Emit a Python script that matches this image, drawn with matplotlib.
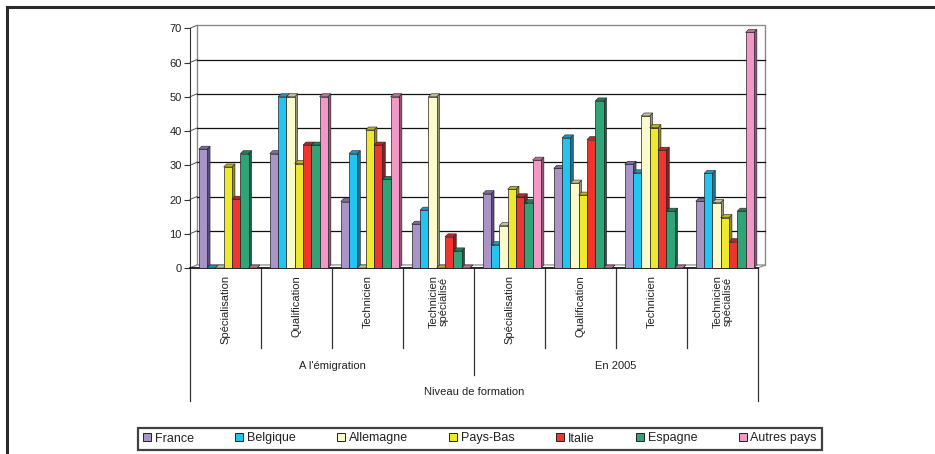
import numpy as np
import matplotlib.pyplot as plt
from matplotlib.patches import Polygon, Patch
from matplotlib.lines import Line2D
from matplotlib import transforms

plt.rcParams['font.family'] = ['Liberation Sans', 'DejaVu Sans']

# niveau de formation, à l'émigration puis en 2005
niveaux = ['Spécialisation', 'Qualification', 'Technicien', 'Technicien\nspécialisé',
           'Spécialisation', 'Qualification', 'Technicien', 'Technicien\nspécialisé']
periodes = ["A l'émigration", 'En 2005']
pays = ['France', 'Belgique', 'Allemagne', 'Pays-Bas', 'Italie', 'Espagne', 'Autres pays']

france = [34.7, 33.4, 19.4, 12.8, 21.7, 29.1, 30.3, 19.5]
belgique = [0, 50, 33.4, 16.9, 6.8, 38.0, 27.8, 27.6]
allemagne = [0, 50, 0, 50, 12.4, 24.8, 44.4, 19.1]
pays_bas = [29.5, 30.5, 40.3, 0, 23.0, 21.3, 41.0, 14.7]
italie = [20.1, 35.9, 35.9, 9.1, 20.8, 37.5, 34.4, 7.7]
espagne = [33.4, 35.9, 25.9, 5.0, 19.1, 48.8, 16.6, 16.6]
autres = [0, 50, 50, 0, 31.5, 0, 0, 68.8]
series = [france, belgique, allemagne, pays_bas, italie, espagne, autres]

yticks = list(range(0, 80, 10))

face = ['#a994c8', '#22c4f2', '#fafacb', '#efe92d', '#ee3530', '#30a377', '#f397c6']
dark = ['#5a4a7e', '#1a7090', '#94947a', '#8d8820', '#8c1d1b', '#1b5e44', '#8e5673']

W, H = 935, 454
fig = plt.figure(figsize=(W / 100, H / 100), dpi=100)
x0_px, x1_px, y0_px, y1_px = 190, 758, 268, 28.3
ax = fig.add_axes([x0_px / W, 1 - y0_px / H, (x1_px - x0_px) / W, (y0_px - y1_px) / H])
ax.set_xlim(0, 8)
ax.set_ylim(0, 70)

# pixel -> data
px_x = 8 / (x1_px - x0_px)
px_y = 70 / (y0_px - y1_px)

# back wall, floor and gridlines (offset in depth)
back = transforms.offset_copy(ax.transData, fig=fig, x=7, y=3, units='dots')
ax.add_patch(Polygon([(0, 0), (8, 0), (8 + 7 * px_x, 3 * px_y), (7 * px_x, 3 * px_y)],
                     closed=True, facecolor='white', edgecolor='#888888', lw=0.8, zorder=1,
                     clip_on=False))
ax.add_patch(plt.Rectangle((0, 0), 8, 70, transform=back, facecolor='white',
                           edgecolor='#8a8a8a', lw=1, zorder=0.5, clip_on=False))
for v in yticks[1:-1]:
    ax.plot([0, 8], [v, v], transform=back, color='#111111', lw=0.9, zorder=0.8,
            clip_on=False)
for v in yticks:
    ax.plot([0, 7 * px_x], [v, v + 3 * px_y], color='#555555', lw=0.7, zorder=0.8,
            clip_on=False)

# bars with a small 3D cap and side
bw = 0.117
start = 0.123
dx, dy = 3 * px_x, 3 * px_y
for i, vals in enumerate(series):
    xs = np.arange(8) + start + i * bw
    ax.bar(xs, vals, width=bw, align='edge', color=face[i], edgecolor='#222222',
           lw=0.5, zorder=3 + i)
    topc = tuple(0.55 * np.array(plt.matplotlib.colors.to_rgb(dark[i]))
                 + 0.45 * np.array(plt.matplotlib.colors.to_rgb(face[i])))
    for x, h in zip(xs, vals):
        ax.add_patch(Polygon([(x + bw, 0), (x + bw + dx, dy), (x + bw + dx, h + dy), (x + bw, h)],
                             closed=True, facecolor=dark[i], edgecolor='#222222', lw=0.4,
                             zorder=2.9 + i, clip_on=False))
        ax.add_patch(Polygon([(x, h), (x + bw, h), (x + bw + dx, h + dy), (x + dx, h + dy)],
                             closed=True, facecolor=topc, edgecolor='#222222', lw=0.4,
                             zorder=3.1 + i, clip_on=False))

for s in ['top', 'right']:
    ax.spines[s].set_visible(False)
ax.spines['left'].set_color('#333333')
ax.spines['bottom'].set_color('#111111')
ax.spines['bottom'].set_linewidth(1.2)
ax.set_xticks([])
ax.set_yticks(yticks)
ax.tick_params(axis='y', length=4, width=0.8, color='#333333', labelsize=8,
               labelcolor='#222222', pad=2)

# hierarchical category axis
bt = transforms.blended_transform_factory(ax.transData, fig.transFigure)


def fy(p):
    return 1 - p / H


for x in range(9):
    end = 401 if x in (0, 8) else (375 if x == 4 else 348)
    ax.plot([x, x], [fy(268), fy(end)], transform=bt, color='#333333', lw=0.9, clip_on=False)
for g, lab in enumerate(niveaux):
    ax.text(g + 0.5, fy(275), lab, transform=bt, rotation=90, ha='center', va='top',
            fontsize=8, color='#222222', linespacing=1.0)
for k, lab in enumerate(periodes):
    ax.text(2 + 4 * k, fy(366), lab, transform=bt, ha='center', va='center',
            fontsize=8, color='#222222')
ax.text(4, fy(392), 'Niveau de formation', transform=bt, ha='center', va='center',
        fontsize=8, color='#222222')

# outer frame (top and left)
fig.add_artist(Line2D([7 / W, 1], [fy(6.5), fy(6.5)], transform=fig.transFigure,
                      color='#2a2a2a', lw=2.2))
fig.add_artist(Line2D([7 / W, 7 / W], [fy(6.5), 0], transform=fig.transFigure,
                      color='#2a2a2a', lw=2.2))

handles = [Patch(facecolor=face[i], edgecolor='#222222', lw=0.7) for i in range(7)]
leg = fig.legend(handles, pays, loc='center', bbox_to_anchor=(480 / W, fy(438.5)),
                 ncol=7, fontsize=9, frameon=True, fancybox=False, columnspacing=3.3,
                 handlelength=0.65, handleheight=0.65, handletextpad=0.3, borderpad=0.4)
leg.get_frame().set_edgecolor('#111111')
leg.get_frame().set_linewidth(1.6)
for t in leg.get_texts():
    t.set_color('#222222')

fig.savefig('out.png', dpi=100)
